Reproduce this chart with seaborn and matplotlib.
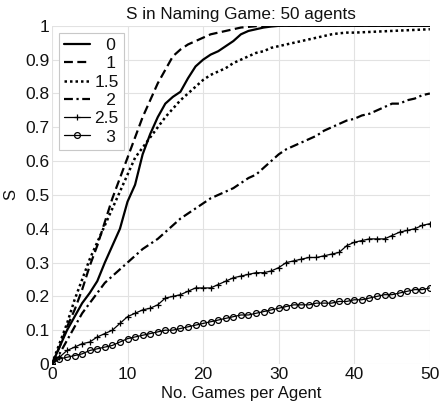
import numpy as np
import pandas as pd
import matplotlib
matplotlib.use("Agg")
import matplotlib.pyplot as plt
import seaborn as sns

games = list(range(51))

s_0 = [0, 0.05, 0.10, 0.14, 0.18, 0.21, 0.245, 0.30, 0.35, 0.40, 0.48, 0.53, 0.62, 0.68,
       0.73, 0.77, 0.79, 0.805, 0.845, 0.88, 0.90, 0.915, 0.925, 0.94, 0.955, 0.975, 0.985,
       0.99, 0.995, 0.998] + [1.0] * 21
s_1 = [0, 0.05, 0.11, 0.16, 0.22, 0.29, 0.35, 0.42, 0.49, 0.55, 0.61, 0.67, 0.73, 0.78,
       0.83, 0.87, 0.91, 0.93, 0.945, 0.955, 0.965, 0.975, 0.98, 0.985, 0.99, 0.995, 0.997,
       0.999] + [1.0] * 23
s_15 = [0, 0.06, 0.12, 0.19, 0.25, 0.31, 0.36, 0.41, 0.46, 0.51, 0.56, 0.61, 0.64, 0.67,
        0.70, 0.73, 0.755, 0.78, 0.80, 0.82, 0.84, 0.855, 0.865, 0.875, 0.89, 0.90, 0.91,
        0.92, 0.925, 0.935, 0.94, 0.945, 0.95, 0.955, 0.96, 0.965, 0.97, 0.975, 0.978, 0.98,
        0.98, 0.981, 0.982, 0.983, 0.984, 0.985, 0.986, 0.987, 0.988, 0.989, 0.99]
s_2 = [0, 0.03, 0.07, 0.11, 0.15, 0.18, 0.21, 0.24, 0.26, 0.28, 0.30, 0.32, 0.34, 0.355,
       0.37, 0.39, 0.41, 0.43, 0.445, 0.46, 0.475, 0.49, 0.50, 0.51, 0.52, 0.535, 0.55, 0.56,
       0.58, 0.60, 0.62, 0.635, 0.645, 0.655, 0.665, 0.675, 0.69, 0.70, 0.71, 0.72, 0.725,
       0.735, 0.74, 0.75, 0.76, 0.77, 0.77, 0.78, 0.785, 0.795, 0.80]
s_25 = [0, 0.02, 0.04, 0.05, 0.06, 0.065, 0.08, 0.09, 0.10, 0.12, 0.14, 0.15, 0.16, 0.165,
        0.175, 0.195, 0.20, 0.205, 0.215, 0.225, 0.225, 0.225, 0.235, 0.245, 0.255, 0.26,
        0.265, 0.27, 0.27, 0.275, 0.285, 0.30, 0.305, 0.31, 0.315, 0.315, 0.32, 0.325, 0.33,
        0.35, 0.36, 0.365, 0.37, 0.37, 0.37, 0.38, 0.39, 0.395, 0.40, 0.41, 0.415]
s_3 = [0, 0.015, 0.02, 0.025, 0.03, 0.04, 0.045, 0.05, 0.055, 0.065, 0.075, 0.08, 0.085,
       0.09, 0.095, 0.10, 0.10, 0.105, 0.11, 0.115, 0.12, 0.125, 0.13, 0.135, 0.14, 0.145,
       0.145, 0.15, 0.155, 0.16, 0.165, 0.17, 0.175, 0.175, 0.175, 0.18, 0.18, 0.18, 0.185,
       0.185, 0.19, 0.19, 0.195, 0.20, 0.205, 0.205, 0.21, 0.215, 0.22, 0.22, 0.225]

labels = ["0", "1", "1.5", "2", "2.5", "3"]
series = [s_0, s_1, s_15, s_2, s_25, s_3]
yticklabels = ["0", "0.1", "0.2", "0.3", "0.4", "0.5", "0.6", "0.7", "0.8", "0.9", "1"]

sns.set_theme(style="whitegrid")
plt.rcParams["font.family"] = ["Liberation Sans", "DejaVu Sans"]
plt.rcParams["text.color"] = "#111111"
plt.rcParams["axes.labelcolor"] = "#111111"

fig = plt.figure(figsize=(4.4, 4.04), dpi=100)
ax = fig.add_axes([0.118, 0.099, 0.859, 0.837])

styles = [
    dict(linestyle="-", linewidth=1.6),
    dict(linestyle=(0, (4, 2)), linewidth=1.6),
    dict(linestyle=(0, (1, 1.2)), linewidth=1.8),
    dict(linestyle=(0, (4, 1.6, 1, 1.6)), linewidth=1.6),
    dict(linestyle="-", linewidth=0.9, marker="+", markersize=5,
         markeredgewidth=0.9, markeredgecolor="black"),
    dict(linestyle="-", linewidth=0.9, marker="o", markersize=4.2,
         markerfacecolor="none", markeredgewidth=0.9, markeredgecolor="black"),
]

for lab, vals, st in zip(labels, series, styles):
    df = pd.DataFrame({"games": games, "S": vals})
    sns.lineplot(data=df, x="games", y="S", ax=ax, color="black", label=lab, **st)

ax.set_xlim(0, 50)
ax.set_ylim(0, 1)
ax.set_xticks(np.arange(0, 51, 10))
ax.set_yticks(np.arange(0, 1.01, 0.1))
ax.set_yticklabels(yticklabels)
ax.tick_params(axis="both", labelsize=12.5, length=0, colors="#111111")
ax.tick_params(axis="y", pad=2)
ax.tick_params(axis="x", pad=2)
ax.grid(True, color="#e2e2e2", linewidth=0.8)
for sp in ax.spines.values():
    sp.set_visible(False)

ax.set_title("S in Naming Game: 50 agents", fontsize=12.3, pad=5)
ax.set_xlabel("No. Games per Agent", fontsize=12, labelpad=3)
ax.set_ylabel("S", fontsize=12, labelpad=5)

# right-align the legend labels by padding the short ones
handles, _ = ax.get_legend_handles_labels()
widest = max(len(l) for l in labels)
padded = [l if len(l) == widest else "\u2002\u2009" + l for l in labels]
leg = ax.legend(handles, padded, loc="upper left", fontsize=12.5, handlelength=1.5,
                handletextpad=0.25, borderpad=0.3, labelspacing=0.18, fancybox=False,
                framealpha=1, borderaxespad=0.4)
leg.get_frame().set_edgecolor("#c8c8c8")
leg.get_frame().set_linewidth(0.8)

fig.savefig("out.png", dpi=100)
